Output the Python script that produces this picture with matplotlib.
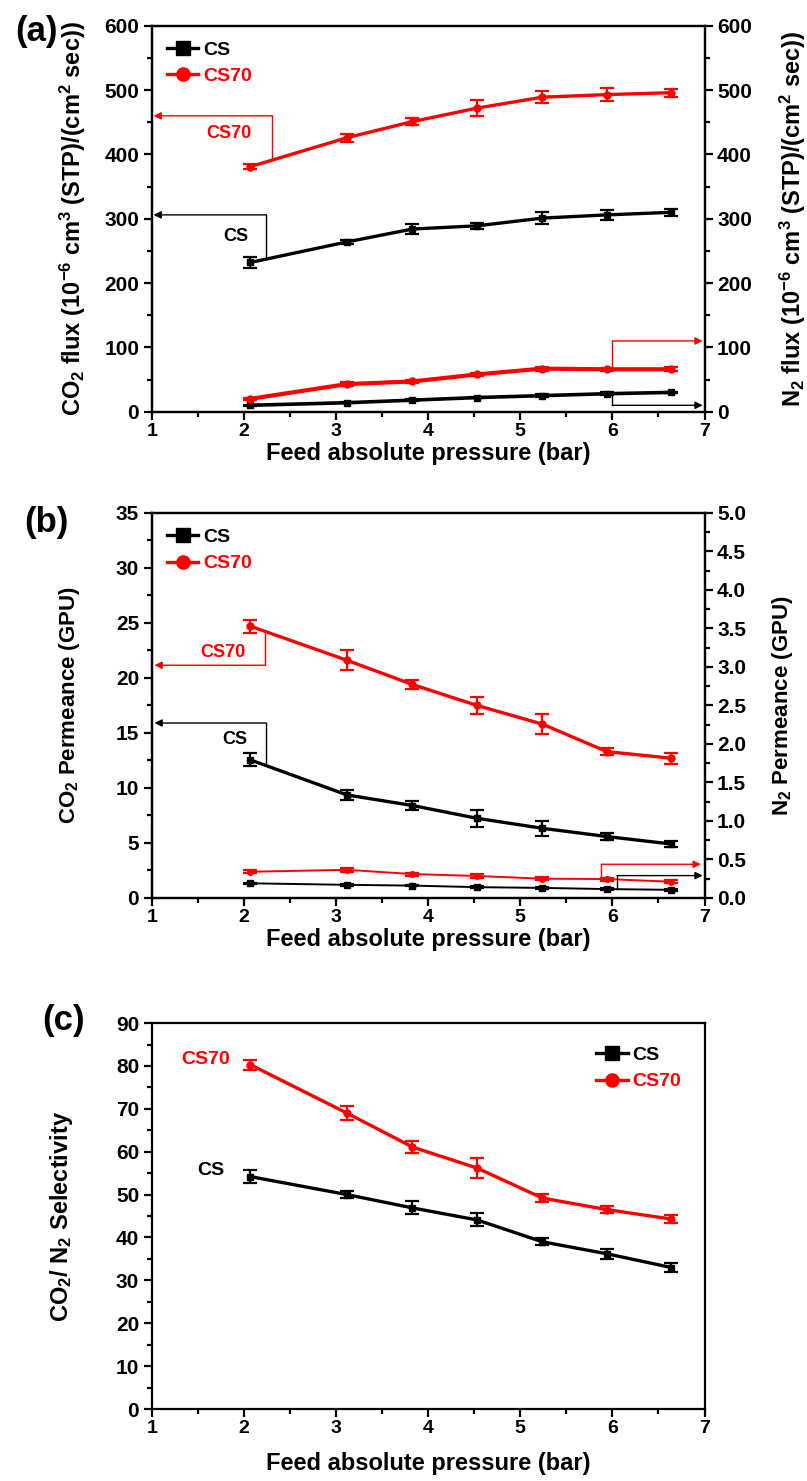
import numpy as np
import matplotlib
matplotlib.use('Agg')
import matplotlib.pyplot as plt
from matplotlib.ticker import MultipleLocator, FormatStrFormatter

plt.rcParams['font.family'] = ['Liberation Sans', 'DejaVu Sans']
plt.rcParams['font.weight'] = 'bold'
plt.rcParams['axes.labelweight'] = 'bold'
plt.rcParams['mathtext.fontset'] = 'custom'
plt.rcParams['mathtext.rm'] = 'Liberation Sans:bold'
plt.rcParams['mathtext.it'] = 'Liberation Sans:bold'
plt.rcParams['mathtext.bf'] = 'Liberation Sans:bold'
plt.rcParams['axes.linewidth'] = 1.6

# feed absolute pressure (bar)
pressure = [2.07, 3.12, 3.83, 4.53, 5.24, 5.94, 6.64]

# (a) fluxes, 10^-6 cm3(STP)/(cm2 s)
co2_flux_cs = [232, 264, 284, 289, 301, 306, 310]
co2_flux_cs_err = [8, 3, 8, 5, 9, 8, 5]
co2_flux_cs70 = [381, 426, 451, 472, 489, 493, 496]
co2_flux_cs70_err = [4, 6, 5, 13, 9, 10, 6]
n2_flux_cs = [10, 14, 18, 22, 25, 28, 30]
n2_flux_cs_err = [1, 1, 1, 1, 2, 2, 1]
n2_flux_cs70 = [20, 43, 47, 58, 67, 66, 66]
n2_flux_cs70_err = [2, 3, 2, 2, 3, 2, 3]

# (b) permeance (GPU)
co2_perm_cs = [12.55, 9.36, 8.4, 7.24, 6.33, 5.58, 4.9]
co2_perm_cs_err = [0.6, 0.45, 0.45, 0.75, 0.67, 0.3, 0.25]
co2_perm_cs70 = [24.7, 21.6, 19.4, 17.5, 15.8, 13.3, 12.7]
co2_perm_cs70_err = [0.6, 0.9, 0.45, 0.8, 0.9, 0.35, 0.5]
n2_perm_cs = [0.19, 0.17, 0.16, 0.14, 0.13, 0.115, 0.105]
n2_perm_cs_err = [0.01, 0.01, 0.01, 0.01, 0.01, 0.01, 0.01]
n2_perm_cs70 = [0.34, 0.365, 0.31, 0.285, 0.25, 0.245, 0.21]
n2_perm_cs70_err = [0.02, 0.03, 0.02, 0.02, 0.02, 0.02, 0.02]

# (c) CO2/N2 selectivity
sel_cs = [54.2, 50.0, 46.9, 44.1, 39.0, 36.2, 33.0]
sel_cs_err = [1.5, 0.9, 1.5, 1.5, 0.8, 1.2, 1.0]
sel_cs70 = [80.3, 69.0, 61.1, 56.2, 49.2, 46.5, 44.3]
sel_cs70_err = [1.2, 1.7, 1.4, 2.3, 1.0, 0.8, 0.9]

BLACK = 'black'
RED = '#ff0000'
TICK_FS = 15


def series(ax, y, err, color, marker, label=None, lw=2.4, ms=5):
    ax.plot(pressure, y, color=color, marker=marker, lw=lw, ms=ms, label=label)
    ax.errorbar(pressure, y, yerr=err, fmt='none', ecolor=color,
                elinewidth=1.6, capsize=5, capthick=1.6)


def style(ax, ymax, ymaj, ymin, xlab_y):
    ax.set_xlim(1, 7)
    ax.set_ylim(0, ymax)
    ax.xaxis.set_major_locator(MultipleLocator(1))
    ax.xaxis.set_minor_locator(MultipleLocator(0.5))
    ax.yaxis.set_major_locator(MultipleLocator(ymaj))
    ax.yaxis.set_minor_locator(MultipleLocator(ymin))
    ax.tick_params(which='both', direction='out', width=1.6, top=False, right=False)
    ax.tick_params(which='major', length=6, labelsize=TICK_FS, pad=3)
    ax.tick_params(axis='x', which='major', labelsize=14, pad=2)
    ax.tick_params(which='minor', length=3.5)
    ax.set_xlabel('Feed absolute pressure (bar)', fontsize=17, fontweight='bold')
    ax.xaxis.set_label_coords(0.5, xlab_y)


def right_style(ax2, ymax, ymaj, ymin):
    ax2.set_ylim(0, ymax)
    ax2.yaxis.set_major_locator(MultipleLocator(ymaj))
    ax2.yaxis.set_minor_locator(MultipleLocator(ymin))
    ax2.tick_params(which='both', direction='out', width=1.6)
    ax2.tick_params(which='major', length=6, labelsize=TICK_FS, pad=3)
    ax2.tick_params(which='minor', length=3.5)


def elbow_arrow(ax, x0, y0, y1, x_end, color):
    # vertical segment from the curve, then an arrow to the axis
    ax.plot([x0, x0], [y0, y1], color=color, lw=1.0, clip_on=False)
    ax.annotate('', xy=(x_end, y1), xytext=(x0, y1),
                arrowprops=dict(arrowstyle='-|>', color=color, lw=1.0,
                                mutation_scale=11, shrinkA=0, shrinkB=0),
                annotation_clip=False)


def legend(ax, loc, pad, size):
    ax.legend(loc=loc, frameon=False, handlelength=1.6,
              handletextpad=0.25, labelspacing=0.45, borderaxespad=pad,
              labelcolor='linecolor', markerscale=1.9,
              prop={'weight': 'bold', 'size': size})


fig = plt.figure(figsize=(8.07, 14.81), dpi=100)
fig.patch.set_facecolor('white')

L, W = 0.188, 0.685

# ---------------- (a) ----------------
ax1 = fig.add_axes([L, 0.722, W, 0.2606])
series(ax1, co2_flux_cs, co2_flux_cs_err, BLACK, 's', 'CS')
series(ax1, co2_flux_cs70, co2_flux_cs70_err, RED, 'o', 'CS70')
style(ax1, 600, 100, 50, -0.079)
ax1.set_ylabel('CO$_2$ flux (10$^{-6}$ cm$^3$ (STP)/(cm$^2$ sec))', fontsize=17)
ax1.yaxis.set_label_coords(-0.116, 0.5)
ax1b = ax1.twinx()
series(ax1b, n2_flux_cs, n2_flux_cs_err, BLACK, 's', lw=2.6)
series(ax1b, n2_flux_cs70, n2_flux_cs70_err, RED, 'o', lw=3.0)
right_style(ax1b, 600, 100, 50)
ax1b.set_ylabel('N$_2$ flux (10$^{-6}$ cm$^3$ (STP)/(cm$^2$ sec))', fontsize=17, rotation=90)
ax1b.yaxis.set_label_coords(1.132, 0.5)
legend(ax1, 'upper left', 0.4, 14)
elbow_arrow(ax1, 2.31, 392, 460, 1.02, RED)
ax1.text(1.84, 432, 'CS70', color=RED, fontsize=13, ha='center', va='center')
elbow_arrow(ax1, 2.245, 238, 306, 1.02, BLACK)
ax1.text(1.91, 273, 'CS', color=BLACK, fontsize=13, ha='center', va='center')
elbow_arrow(ax1b, 6.0, 66, 110, 6.98, RED)
elbow_arrow(ax1b, 6.0, 28, 10, 6.98, BLACK)
fig.text(0.045, 0.979, '(a)', fontsize=25, fontweight='bold', ha='center', va='center')

# ---------------- (b) ----------------
ax2 = fig.add_axes([L, 0.3937, W, 0.26])
series(ax2, co2_perm_cs, co2_perm_cs_err, BLACK, 's', 'CS')
series(ax2, co2_perm_cs70, co2_perm_cs70_err, RED, 'o', 'CS70')
style(ax2, 35, 5, 2.5, -0.079)
ax2.set_ylabel('CO$_2$ Permeance (GPU)', fontsize=16)
ax2.yaxis.set_label_coords(-0.127, 0.5)
ax2b = ax2.twinx()
series(ax2b, n2_perm_cs, n2_perm_cs_err, BLACK, 's', lw=1.4, ms=4)
series(ax2b, n2_perm_cs70, n2_perm_cs70_err, RED, 'o', lw=1.4, ms=4)
right_style(ax2b, 5, 0.5, 0.25)
ax2b.yaxis.set_major_formatter(FormatStrFormatter('%.1f'))
ax2b.set_ylabel('N$_2$ Permeance (GPU)', fontsize=16, rotation=90)
ax2b.yaxis.set_label_coords(1.118, 0.5)
legend(ax2, 'upper left', 0.4, 14)
elbow_arrow(ax2, 2.23, 24.1, 21.15, 1.03, RED)
ax2.text(1.77, 22.3, 'CS70', color=RED, fontsize=13, ha='center', va='center')
elbow_arrow(ax2, 2.24, 12.3, 15.9, 1.03, BLACK)
ax2.text(1.9, 14.4, 'CS', color=BLACK, fontsize=13, ha='center', va='center')
elbow_arrow(ax2b, 5.88, 0.245, 0.437, 6.96, RED)
elbow_arrow(ax2b, 6.05, 0.11, 0.29, 6.98, BLACK)
fig.text(0.057, 0.647, '(b)', fontsize=25, fontweight='bold', ha='center', va='center')

# ---------------- (c) ----------------
ax3 = fig.add_axes([L, 0.0486, W, 0.2606])
series(ax3, sel_cs, sel_cs_err, BLACK, 's', 'CS')
series(ax3, sel_cs70, sel_cs70_err, RED, 'o', 'CS70')
style(ax3, 90, 10, 5, -0.112)
ax3.set_ylabel('CO$_2$/ N$_2$ Selectivity', fontsize=17)
ax3.yaxis.set_label_coords(-0.139, 0.5)
legend(ax3, 'upper right', 0.8, 14)
ax3.text(1.58, 81.4, 'CS70', color=RED, fontsize=14, ha='center', va='center')
ax3.text(1.64, 55.7, 'CS', color=BLACK, fontsize=14, ha='center', va='center')
fig.text(0.079, 0.311, '(c)', fontsize=25, fontweight='bold', ha='center', va='center')

fig.savefig('out.png', dpi=100, facecolor='white')
